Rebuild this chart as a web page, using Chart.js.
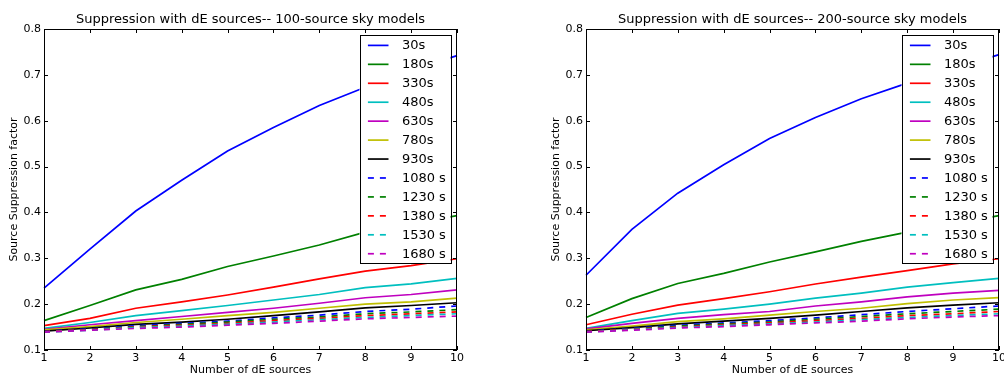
<!DOCTYPE html>
<html>
<head>
<meta charset="utf-8">
<script src="https://cdn.jsdelivr.net/npm/chart.js@4"></script>
<style>
  body { margin: 0; background: #fff; }
  .panel { position: absolute; top: 0; width: 502px; height: 377px; }
</style>
</head>
<body>
<div class="panel" style="left:0"><canvas id="left"></canvas></div>
<div class="panel" style="left:502px"><canvas id="right"></canvas></div>
<script>
const nSources = [1, 2, 3, 4, 5, 6, 7, 8, 9, 10];
const yTicks = [0.1, 0.2, 0.3, 0.4, 0.5, 0.6, 0.7, 0.8];
const seriesNames = ["30s", "180s", "330s", "480s", "630s", "780s", "930s",
  "1080 s", "1230 s", "1380 s", "1530 s", "1680 s"];

// 100-source sky models
const sky100 = [
  [0.235, 0.320, 0.403, 0.470, 0.534, 0.585, 0.633, 0.673, 0.710, 0.742],
  [0.164, 0.197, 0.231, 0.254, 0.282, 0.305, 0.329, 0.357, 0.375, 0.393],
  [0.153, 0.169, 0.191, 0.205, 0.220, 0.237, 0.255, 0.272, 0.284, 0.299],
  [0.147, 0.160, 0.175, 0.186, 0.197, 0.209, 0.221, 0.236, 0.244, 0.256],
  [0.145, 0.155, 0.164, 0.173, 0.182, 0.191, 0.202, 0.214, 0.221, 0.231],
  [0.144, 0.151, 0.160, 0.167, 0.175, 0.182, 0.191, 0.200, 0.205, 0.213],
  [0.141, 0.148, 0.156, 0.161, 0.167, 0.175, 0.183, 0.192, 0.197, 0.203],
  [0.141, 0.146, 0.153, 0.158, 0.163, 0.170, 0.176, 0.184, 0.189, 0.196],
  [0.140, 0.145, 0.151, 0.156, 0.161, 0.167, 0.172, 0.179, 0.183, 0.188],
  [0.140, 0.144, 0.150, 0.154, 0.158, 0.164, 0.169, 0.175, 0.179, 0.183],
  [0.139, 0.143, 0.149, 0.152, 0.156, 0.161, 0.166, 0.171, 0.175, 0.179],
  [0.139, 0.143, 0.147, 0.150, 0.154, 0.158, 0.163, 0.168, 0.171, 0.174]
];

// 200-source sky models
const sky200 = [
  [0.263, 0.363, 0.442, 0.504, 0.561, 0.607, 0.648, 0.682, 0.713, 0.744],
  [0.171, 0.212, 0.245, 0.267, 0.292, 0.314, 0.337, 0.357, 0.375, 0.393],
  [0.155, 0.178, 0.198, 0.212, 0.227, 0.244, 0.259, 0.273, 0.288, 0.299],
  [0.147, 0.164, 0.180, 0.189, 0.200, 0.213, 0.224, 0.237, 0.247, 0.256],
  [0.146, 0.158, 0.169, 0.177, 0.184, 0.196, 0.205, 0.216, 0.224, 0.230],
  [0.144, 0.152, 0.162, 0.168, 0.176, 0.184, 0.191, 0.201, 0.209, 0.214],
  [0.142, 0.149, 0.157, 0.163, 0.169, 0.176, 0.184, 0.192, 0.198, 0.203],
  [0.141, 0.147, 0.154, 0.159, 0.164, 0.170, 0.177, 0.184, 0.190, 0.196],
  [0.140, 0.146, 0.152, 0.157, 0.161, 0.167, 0.173, 0.179, 0.184, 0.189],
  [0.140, 0.145, 0.150, 0.155, 0.159, 0.164, 0.169, 0.175, 0.179, 0.184],
  [0.139, 0.144, 0.149, 0.153, 0.157, 0.161, 0.166, 0.171, 0.175, 0.179],
  [0.139, 0.143, 0.148, 0.151, 0.155, 0.159, 0.163, 0.168, 0.172, 0.175]
];

const colors = ["#0000ff", "#008000", "#ff0000", "#00bfbf", "#bf00bf", "#bfbf00", "#000000"];
const FONT = "'DejaVu Sans', sans-serif";

// black frame with inward ticks on all four sides
const framePlugin = {
  id: "frame",
  afterDatasetsDraw(chart) {
    const { ctx, chartArea: a, scales } = chart;
    ctx.save();
    ctx.strokeStyle = "#000";
    ctx.lineWidth = 1;
    ctx.strokeRect(a.left + 0.5, a.top + 0.5, a.right - a.left - 1, a.bottom - a.top - 1);
    const len = 4;
    ctx.beginPath();
    nSources.forEach((v, i) => {
      const x = Math.round(scales.x.getPixelForTick(i)) + 0.5;
      ctx.moveTo(x, a.bottom); ctx.lineTo(x, a.bottom - len);
      ctx.moveTo(x, a.top); ctx.lineTo(x, a.top + len);
    });
    yTicks.forEach(v => {
      const y = Math.round(scales.y.getPixelForValue(v)) + 0.5;
      ctx.moveTo(a.left, y); ctx.lineTo(a.left + len, y);
      ctx.moveTo(a.right, y); ctx.lineTo(a.right - len, y);
    });
    ctx.stroke();
    ctx.restore();
  }
};

// boxed legend in the upper right corner of the plot
const boxLegend = {
  id: "boxLegend",
  afterDraw(chart) {
    const { ctx, chartArea: a } = chart;
    const w = 91, h = 228;
    const x0 = a.right - 6.5 - w, y0 = a.top + 6;
    ctx.save();
    ctx.fillStyle = "#fff";
    ctx.fillRect(x0, y0, w, h);
    ctx.strokeStyle = "#000";
    ctx.lineWidth = 1;
    ctx.strokeRect(Math.round(x0) + 0.5, Math.round(y0) + 0.5, w, h);
    ctx.font = "13px " + FONT;
    ctx.textBaseline = "middle";
    chart.data.datasets.forEach((ds, i) => {
      const y = y0 + 10.4 + i * 18.94;
      ctx.strokeStyle = ds.borderColor;
      ctx.lineWidth = ds.borderWidth;
      ctx.setLineDash(ds.borderDash || []);
      ctx.beginPath();
      ctx.moveTo(x0 + 8.4, y);
      ctx.lineTo(x0 + 29, y);
      ctx.stroke();
      ctx.setLineDash([]);
      ctx.fillStyle = "#000";
      ctx.fillText(ds.label, x0 + 42.4, y + 0.5);
    });
    ctx.restore();
  }
};

function makeChart(id, title, values, padLeft, padRight) {
  const datasets = values.map((vals, i) => ({
    label: seriesNames[i],
    data: vals,
    borderColor: colors[i % 7],
    backgroundColor: colors[i % 7],
    borderWidth: 1.7,
    borderDash: i < 7 ? [] : [6, 6],
    pointRadius: 0,
    tension: 0,
    order: values.length - 1 - i,
  }));
  return new Chart(document.getElementById(id), {
    type: "line",
    data: { labels: nSources, datasets: datasets },
    plugins: [framePlugin, boxLegend],
    options: {
      responsive: true,
      maintainAspectRatio: false,
      animation: false,
      layout: { padding: { left: padLeft, right: padRight, top: 0, bottom: 0 } },
      plugins: {
        legend: { display: false },
        tooltip: { enabled: false },
        title: {
          display: true,
          text: title,
          fullSize: false,
          color: "#000",
          font: { family: FONT, size: 13, weight: "normal" },
          padding: { top: 12, bottom: 1.4 },
        },
      },
      scales: {
        x: {
          type: "category",
          offset: false,
          grid: { display: false, drawTicks: false, tickLength: 0 },
          border: { display: false },
          ticks: { color: "#000", font: { family: FONT, size: 11 }, padding: 2, maxRotation: 0, autoSkip: false },
          title: {
            display: true, text: "Number of dE sources", color: "#000",
            font: { family: FONT, size: 11 }, padding: { top: 0, bottom: 0 },
          },
          afterFit(s) { s.height = 27; s.paddingLeft = 0; s.paddingRight = 0; },
        },
        y: {
          min: 0.1,
          max: 0.8,
          grid: { display: false, drawTicks: false, tickLength: 0 },
          border: { display: false },
          afterBuildTicks(s) { s.ticks = yTicks.map(v => ({ value: v })); },
          ticks: {
            color: "#000", font: { family: FONT, size: 11 }, padding: 3,
            callback: v => v.toFixed(1),
          },
          title: {
            display: true, text: "Source Suppression factor", color: "#000",
            font: { family: FONT, size: 11 }, padding: { top: 8, bottom: 0 },
          },
          afterFit(s) { s.width = 44; s.paddingTop = 0; s.paddingBottom = 0; },
        },
      },
    },
  });
}

makeChart("left", "Suppression with dE sources-- 100-source sky models", sky100, 0, 45);
makeChart("right", "Suppression with dE sources-- 200-source sky models", sky200, 40, 5);
</script>
</body>
</html>
